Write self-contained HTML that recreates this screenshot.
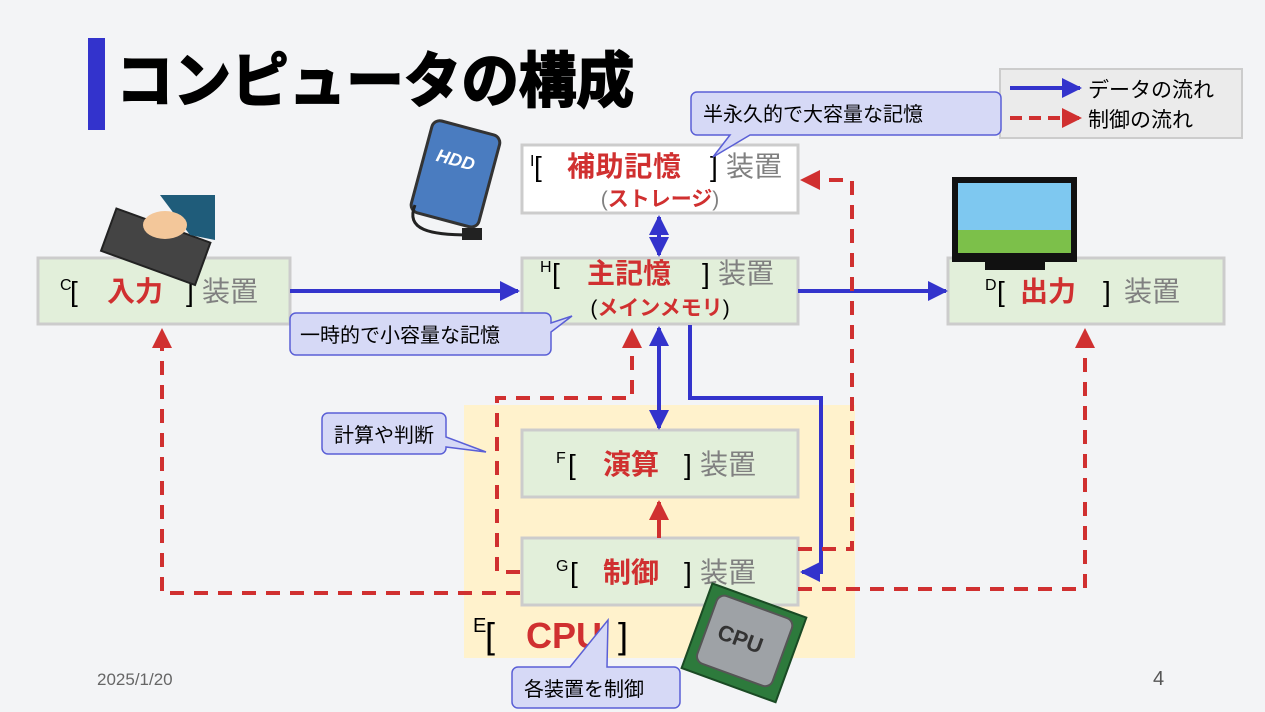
<!DOCTYPE html>
<html><head><meta charset="utf-8"><style>
body{margin:0;background:#f3f4f6;}
svg{display:block;font-family:"Liberation Sans","Noto Sans CJK JP",sans-serif;}
.r{fill:#d03030;font-weight:bold}
.g{fill:#808080}
</style></head><body>
<svg width="1265" height="712" viewBox="0 0 1265 712">
<defs>
<marker id="ab" markerWidth="5" markerHeight="5" refX="4.5" refY="2.5" orient="auto" markerUnits="strokeWidth"><path d="M0,0L5,2.5L0,5z" fill="#3333cc"/></marker>
<marker id="abs" markerWidth="5" markerHeight="5" refX="4.5" refY="2.5" orient="auto-start-reverse" markerUnits="strokeWidth"><path d="M0,0L5,2.5L0,5z" fill="#3333cc"/></marker>
<marker id="ar" markerWidth="5" markerHeight="5" refX="4.5" refY="2.5" orient="auto" markerUnits="strokeWidth"><path d="M0,0L5,2.5L0,5z" fill="#d03030"/></marker>
</defs>
<rect width="1265" height="712" fill="#f3f4f6"/>
<rect x="88" y="38" width="17" height="92" fill="#3333cc"/>
<text x="116" y="102" font-size="60" font-weight="bold" fill="#000" stroke="#000" stroke-width="2" textLength="518" lengthAdjust="spacingAndGlyphs">コンピュータの構成</text>
<rect x="1000" y="69" width="242" height="69" fill="#ebebeb" stroke="#cccccc" stroke-width="2"/>
<line x1="1010" y1="88" x2="1080" y2="88" stroke="#3333cc" stroke-width="4" marker-end="url(#ab)"/>
<text x="1088" y="97" font-size="21" fill="#000">データの流れ</text>
<line x1="1010" y1="118" x2="1080" y2="118" stroke="#d03030" stroke-width="4" stroke-dasharray="12,7" marker-end="url(#ar)"/>
<text x="1088" y="127" font-size="21" fill="#000">制御の流れ</text>
<rect x="464" y="405" width="391" height="253" fill="#fff2cc"/>
<rect x="522" y="145" width="276" height="68" fill="#fff" stroke="#cccccc" stroke-width="3"/>
<rect x="522" y="258" width="276" height="66" fill="#e2efda" stroke="#cccccc" stroke-width="3"/>
<rect x="38" y="258" width="252" height="66" fill="#e2efda" stroke="#cccccc" stroke-width="3"/>
<rect x="948" y="258" width="276" height="66" fill="#e2efda" stroke="#cccccc" stroke-width="3"/>
<rect x="522" y="430" width="276" height="67" fill="#e2efda" stroke="#cccccc" stroke-width="3"/>
<rect x="522" y="538" width="276" height="67" fill="#e2efda" stroke="#cccccc" stroke-width="3"/>
<g font-size="28">
<text y="176"><tspan x="530" font-size="16" y="166">I</tspan><tspan x="534" y="176">[</tspan><tspan class="r" x="567" textLength="114">補助記憶</tspan><tspan x="710">]</tspan><tspan class="g" x="726">装置</tspan></text>
<text x="660" y="206" font-size="21" text-anchor="middle"><tspan class="g">(</tspan><tspan class="r">ストレージ</tspan><tspan class="g">)</tspan></text>
<text y="283"><tspan x="540" font-size="16" y="272">H</tspan><tspan x="552" y="283">[</tspan><tspan class="r" x="587">主記憶</tspan><tspan x="702">]</tspan><tspan class="g" x="718">装置</tspan></text>
<text x="660" y="315" font-size="21" text-anchor="middle"><tspan>(</tspan><tspan class="r">メインメモリ</tspan><tspan>)</tspan></text>
<text y="301"><tspan x="60" font-size="16" y="290">C</tspan><tspan x="70" y="301">[</tspan><tspan class="r" x="107">入力</tspan><tspan x="186">]</tspan><tspan class="g" x="202">装置</tspan></text>
<text y="301"><tspan x="985" font-size="16" y="290">D</tspan><tspan x="997" y="301">[</tspan><tspan class="r" x="1020">出力</tspan><tspan x="1103">]</tspan><tspan class="g" x="1124">装置</tspan></text>
<text y="474"><tspan x="556" font-size="16" y="463">F</tspan><tspan x="568" y="474">[</tspan><tspan class="r" x="603">演算</tspan><tspan x="684">]</tspan><tspan class="g" x="700">装置</tspan></text>
<text y="582"><tspan x="556" font-size="16" y="571">G</tspan><tspan x="570" y="582">[</tspan><tspan class="r" x="603">制御</tspan><tspan x="684">]</tspan><tspan class="g" x="700">装置</tspan></text>
<text y="648" font-size="36"><tspan x="473" font-size="20" y="632">E</tspan><tspan x="485" y="648">[</tspan><tspan class="r" x="526">CPU</tspan><tspan x="618">]</tspan></text>
</g>
<g stroke="#3333cc" stroke-width="4" fill="none">
<line x1="290" y1="291" x2="518" y2="291" marker-end="url(#ab)"/>
<line x1="798" y1="291" x2="946" y2="291" marker-end="url(#ab)"/>
<line x1="659" y1="217" x2="659" y2="255" marker-start="url(#abs)" marker-end="url(#abs)"/>
<line x1="659" y1="328" x2="659" y2="428" marker-start="url(#abs)" marker-end="url(#abs)"/>
<polyline points="690,325 690,398 821,398 821,572 802,572" marker-end="url(#ab)"/>
</g>
<g stroke="#d03030" stroke-width="4" fill="none" stroke-dasharray="14,10">
<polyline points="520,593 162,593 162,330" marker-end="url(#ar)"/>
<polyline points="520,572 497,572 497,398 632,398 632,330" marker-end="url(#ar)"/>
<polyline points="798,549 852,549 852,180 802,180" marker-end="url(#ar)"/>
<polyline points="798,589 1085,589 1085,330" marker-end="url(#ar)"/>
</g>
<line x1="659" y1="538" x2="659" y2="502" stroke="#d03030" stroke-width="4" marker-end="url(#ar)"/>
<g fill="#d6d9f6" stroke="#5a5fd6" stroke-width="1.5">
<path d="M697,92 H995 a6,6 0 0 1 6,6 V129 a6,6 0 0 1 -6,6 H750 L713,157 L730,135 H697 a6,6 0 0 1 -6,-6 V98 a6,6 0 0 1 6,-6z"/>
<path d="M296,313 H545 a6,6 0 0 1 6,6 V323 L572,316 L551,332 V349 a6,6 0 0 1 -6,6 H296 a6,6 0 0 1 -6,-6 V319 a6,6 0 0 1 6,-6z"/>
<path d="M328,413 H440 a6,6 0 0 1 6,6 V437 L486,452 L446,447 V448 a6,6 0 0 1 -6,6 H328 a6,6 0 0 1 -6,-6 V419 a6,6 0 0 1 6,-6z"/>
<path d="M518,667 H570 L608,620 L607,667 H674 a6,6 0 0 1 6,6 V702 a6,6 0 0 1 -6,6 H518 a6,6 0 0 1 -6,-6 V673 a6,6 0 0 1 6,-6z"/>
</g>
<g font-size="20" fill="#000">
<text x="703" y="121">半永久的で大容量な記憶</text>
<text x="300" y="342">一時的で小容量な記憶</text>
<text x="334" y="442">計算や判断</text>
<text x="524" y="696">各装置を制御</text>
</g>
<g transform="translate(400,125) rotate(15 50 50)">
<rect x="20" y="0" width="70" height="95" rx="8" fill="#4a7cc0" stroke="#333" stroke-width="3"/>
<text x="32" y="40" font-size="18" font-weight="bold" font-style="italic" fill="#fff">HDD</text>
</g>
<path d="M415,205 C405,230 430,235 470,235" stroke="#222" stroke-width="3" fill="none"/>
<rect x="462" y="228" width="20" height="12" fill="#222"/>
<g transform="translate(100,205) rotate(20 60 30)">
<rect x="10" y="20" width="100" height="45" fill="#444" stroke="#222" stroke-width="2"/>
</g>
<polygon points="160,195 215,195 215,240 190,235" fill="#1f5c7a"/>
<ellipse cx="165" cy="225" rx="22" ry="14" fill="#f3c79a"/>
<rect x="952" y="177" width="125" height="85" fill="#111"/>
<rect x="958" y="183" width="113" height="70" fill="#7ec8f0"/>
<rect x="958" y="230" width="113" height="23" fill="#7cc04a"/>
<rect x="985" y="262" width="60" height="8" fill="#111"/>
<g transform="rotate(20 745 640)">
<rect x="695" y="598" width="100" height="90" fill="#2d7a3c" stroke="#1a4a24" stroke-width="2"/>
<rect x="705" y="605" width="80" height="72" rx="8" fill="#9ea2a6" stroke="#555" stroke-width="2"/>
<text x="717" y="648" font-size="22" font-weight="bold" fill="#333">CPU</text>
</g>
<text x="97" y="685" font-size="17" fill="#666">2025/1/20</text>
<text x="1153" y="685" font-size="20" fill="#555">4</text>
</svg>
</body></html>
